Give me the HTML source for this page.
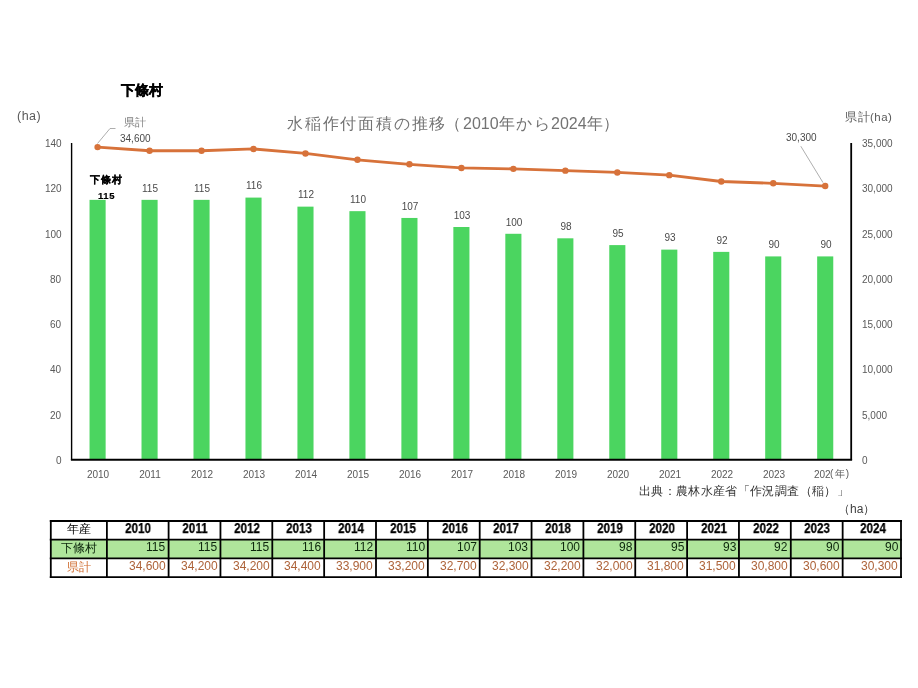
<!DOCTYPE html>
<html lang="ja"><head><meta charset="utf-8">
<style>
html,body{margin:0;padding:0;background:#fff;}
body{width:918px;height:688px;position:relative;overflow:hidden;font-family:"Liberation Sans",sans-serif;}
.t{position:absolute;white-space:nowrap;line-height:12px;will-change:transform;}
.ax{font-size:10px;color:#595959;line-height:12px;}
.dl{font-size:10px;color:#4a4a4a;line-height:12px;}
.c{text-align:center;}
.tb{font-size:12px;line-height:16px;color:#000;}
.yh{font-size:14px;line-height:16px;font-weight:bold;color:#000;width:60px;text-align:center;transform:scaleX(0.83);-webkit-text-stroke:0.25px #000;}
svg{position:absolute;left:0;top:0;}
.ti{top:113.5px;font-size:16px;line-height:20px;color:#737373;}
</style></head><body>
<svg width="918" height="688" viewBox="0 0 918 688">
<rect x="89.54" y="199.85" width="16.1" height="260.15" fill="#4bd560"/><rect x="141.51" y="199.85" width="16.1" height="260.15" fill="#4bd560"/><rect x="193.48" y="199.85" width="16.1" height="260.15" fill="#4bd560"/><rect x="245.46" y="197.59" width="16.1" height="262.41" fill="#4bd560"/><rect x="297.43" y="206.64" width="16.1" height="253.36" fill="#4bd560"/><rect x="349.40" y="211.16" width="16.1" height="248.84" fill="#4bd560"/><rect x="401.38" y="217.95" width="16.1" height="242.05" fill="#4bd560"/><rect x="453.35" y="227.00" width="16.1" height="233.00" fill="#4bd560"/><rect x="505.32" y="233.79" width="16.1" height="226.21" fill="#4bd560"/><rect x="557.30" y="238.31" width="16.1" height="221.69" fill="#4bd560"/><rect x="609.27" y="245.10" width="16.1" height="214.90" fill="#4bd560"/><rect x="661.24" y="249.62" width="16.1" height="210.38" fill="#4bd560"/><rect x="713.22" y="251.88" width="16.1" height="208.12" fill="#4bd560"/><rect x="765.19" y="256.41" width="16.1" height="203.59" fill="#4bd560"/><rect x="817.16" y="256.41" width="16.1" height="203.59" fill="#4bd560"/><polyline points="97.59,147.12 149.56,150.74 201.53,150.74 253.51,148.93 305.48,153.45 357.45,159.79 409.43,164.31 461.40,167.93 513.37,168.84 565.35,170.65 617.32,172.46 669.29,175.17 721.27,181.50 773.24,183.31 825.21,186.03" fill="none" stroke="#d7723a" stroke-width="2.8" stroke-linejoin="round"/><circle cx="97.59" cy="147.12" r="3.2" fill="#d7723a"/><circle cx="149.56" cy="150.74" r="3.2" fill="#d7723a"/><circle cx="201.53" cy="150.74" r="3.2" fill="#d7723a"/><circle cx="253.51" cy="148.93" r="3.2" fill="#d7723a"/><circle cx="305.48" cy="153.45" r="3.2" fill="#d7723a"/><circle cx="357.45" cy="159.79" r="3.2" fill="#d7723a"/><circle cx="409.43" cy="164.31" r="3.2" fill="#d7723a"/><circle cx="461.40" cy="167.93" r="3.2" fill="#d7723a"/><circle cx="513.37" cy="168.84" r="3.2" fill="#d7723a"/><circle cx="565.35" cy="170.65" r="3.2" fill="#d7723a"/><circle cx="617.32" cy="172.46" r="3.2" fill="#d7723a"/><circle cx="669.29" cy="175.17" r="3.2" fill="#d7723a"/><circle cx="721.27" cy="181.50" r="3.2" fill="#d7723a"/><circle cx="773.24" cy="183.31" r="3.2" fill="#d7723a"/><circle cx="825.21" cy="186.03" r="3.2" fill="#d7723a"/><line x1="71.6" y1="143.0" x2="71.6" y2="460.0" stroke="#000" stroke-width="1.4"/><line x1="851.2" y1="143.0" x2="851.2" y2="460.0" stroke="#000" stroke-width="1.8"/><line x1="70.89999999999999" y1="459.7" x2="852.1" y2="459.7" stroke="#000" stroke-width="2"/><polyline points="97.5,143.5 110,128.5 115.5,128.5" fill="none" stroke="#999" stroke-width="0.8"/><line x1="800.8" y1="146.2" x2="823" y2="182.6" stroke="#999" stroke-width="0.8"/><rect x="50.80" y="539.70" width="850.20" height="18.70" fill="#afe59b"/><line x1="49.8" y1="521.0" x2="902.0" y2="521.0" stroke="#000" stroke-width="1.8"/><line x1="49.8" y1="539.7" x2="902.0" y2="539.7" stroke="#000" stroke-width="1.8"/><line x1="49.8" y1="558.4" x2="902.0" y2="558.4" stroke="#000" stroke-width="1.8"/><line x1="49.8" y1="577.1" x2="902.0" y2="577.1" stroke="#000" stroke-width="1.8"/><line x1="50.80" y1="520.1" x2="50.80" y2="578.0" stroke="#000" stroke-width="1.8"/><line x1="106.90" y1="520.1" x2="106.90" y2="578.0" stroke="#000" stroke-width="1.8"/><line x1="168.60" y1="520.1" x2="168.60" y2="578.0" stroke="#000" stroke-width="1.8"/><line x1="220.45" y1="520.1" x2="220.45" y2="578.0" stroke="#000" stroke-width="1.8"/><line x1="272.30" y1="520.1" x2="272.30" y2="578.0" stroke="#000" stroke-width="1.8"/><line x1="324.15" y1="520.1" x2="324.15" y2="578.0" stroke="#000" stroke-width="1.8"/><line x1="376.00" y1="520.1" x2="376.00" y2="578.0" stroke="#000" stroke-width="1.8"/><line x1="427.85" y1="520.1" x2="427.85" y2="578.0" stroke="#000" stroke-width="1.8"/><line x1="479.70" y1="520.1" x2="479.70" y2="578.0" stroke="#000" stroke-width="1.8"/><line x1="531.55" y1="520.1" x2="531.55" y2="578.0" stroke="#000" stroke-width="1.8"/><line x1="583.40" y1="520.1" x2="583.40" y2="578.0" stroke="#000" stroke-width="1.8"/><line x1="635.25" y1="520.1" x2="635.25" y2="578.0" stroke="#000" stroke-width="1.8"/><line x1="687.10" y1="520.1" x2="687.10" y2="578.0" stroke="#000" stroke-width="1.8"/><line x1="738.95" y1="520.1" x2="738.95" y2="578.0" stroke="#000" stroke-width="1.8"/><line x1="790.80" y1="520.1" x2="790.80" y2="578.0" stroke="#000" stroke-width="1.8"/><line x1="842.65" y1="520.1" x2="842.65" y2="578.0" stroke="#000" stroke-width="1.8"/><line x1="901.00" y1="520.1" x2="901.00" y2="578.0" stroke="#000" stroke-width="1.8"/>
</svg>
<div class="t" style="left:121px;top:80.8px;font-size:14px;line-height:18px;font-weight:bold;color:#000;-webkit-text-stroke:0.35px #000;">下條村</div>
<div class="t" style="left:17px;top:107.5px;font-size:12.5px;letter-spacing:0.5px;line-height:16px;color:#595959;">(ha)</div>
<div class="t" style="left:845px;top:109px;font-size:11.5px;letter-spacing:0.5px;line-height:16px;color:#595959;">県計(ha)</div>
<div class="t ti" style="left:287.4px;letter-spacing:1.8px;">水稲作付面積の推移</div>
<div class="t ti" style="left:444.7px;">（</div>
<div class="t ti" style="left:462.5px;">2010</div>
<div class="t ti" style="left:499px;">年</div>
<div class="t ti" style="left:516px;letter-spacing:2px;">から</div>
<div class="t ti" style="left:550.8px;">2024</div>
<div class="t ti" style="left:587px;">年</div>
<div class="t ti" style="left:602.6px;">）</div>
<div class="t" style="left:124px;top:115.2px;font-size:10.5px;line-height:14px;color:#808080;">県計</div>
<div class="t dl" style="left:120px;top:133.2px;">34,600</div>
<div class="t dl" style="left:786px;top:132.3px;">30,300</div>
<div class="t" style="left:89.7px;top:173.2px;font-size:10px;letter-spacing:1px;line-height:14px;font-weight:bold;color:#000;-webkit-text-stroke:0.2px #000;">下條村</div>
<div class="t" style="left:97.8px;top:190.0px;font-size:9.5px;letter-spacing:0.6px;line-height:12px;font-weight:bold;color:#000;-webkit-text-stroke:0.2px #000;">115</div>
<div class="t ax" style="right:856.7px;top:454.8px;">0</div><div class="t ax" style="right:856.7px;top:409.5px;">20</div><div class="t ax" style="right:856.7px;top:364.3px;">40</div><div class="t ax" style="right:856.7px;top:319.0px;">60</div><div class="t ax" style="right:856.7px;top:273.8px;">80</div><div class="t ax" style="right:856.7px;top:228.5px;">100</div><div class="t ax" style="right:856.7px;top:183.3px;">120</div><div class="t ax" style="right:856.7px;top:138.1px;">140</div><div class="t ax" style="left:862px;top:454.8px;">0</div><div class="t ax" style="left:862px;top:409.5px;">5,000</div><div class="t ax" style="left:862px;top:364.3px;">10,000</div><div class="t ax" style="left:862px;top:319.0px;">15,000</div><div class="t ax" style="left:862px;top:273.8px;">20,000</div><div class="t ax" style="left:862px;top:228.5px;">25,000</div><div class="t ax" style="left:862px;top:183.3px;">30,000</div><div class="t ax" style="left:862px;top:138.1px;">35,000</div><div class="t ax c" style="left:77.8px;width:40px;top:469px;">2010</div><div class="t ax c" style="left:129.8px;width:40px;top:469px;">2011</div><div class="t ax c" style="left:181.8px;width:40px;top:469px;">2012</div><div class="t ax c" style="left:233.8px;width:40px;top:469px;">2013</div><div class="t ax c" style="left:285.7px;width:40px;top:469px;">2014</div><div class="t ax c" style="left:337.7px;width:40px;top:469px;">2015</div><div class="t ax c" style="left:389.7px;width:40px;top:469px;">2016</div><div class="t ax c" style="left:441.6px;width:40px;top:469px;">2017</div><div class="t ax c" style="left:493.6px;width:40px;top:469px;">2018</div><div class="t ax c" style="left:545.6px;width:40px;top:469px;">2019</div><div class="t ax c" style="left:597.6px;width:40px;top:469px;">2020</div><div class="t ax c" style="left:649.5px;width:40px;top:469px;">2021</div><div class="t ax c" style="left:701.5px;width:40px;top:469px;">2022</div><div class="t ax c" style="left:753.5px;width:40px;top:469px;">2023</div><div class="t ax" style="left:813.7px;top:469px;">202</div><div class="t dl c" style="left:129.9px;width:40px;top:182.7px;">115</div><div class="t dl c" style="left:181.8px;width:40px;top:182.7px;">115</div><div class="t dl c" style="left:233.8px;width:40px;top:180.4px;">116</div><div class="t dl c" style="left:285.8px;width:40px;top:189.4px;">112</div><div class="t dl c" style="left:337.8px;width:40px;top:194.0px;">110</div><div class="t dl c" style="left:389.7px;width:40px;top:200.8px;">107</div><div class="t dl c" style="left:441.7px;width:40px;top:209.8px;">103</div><div class="t dl c" style="left:493.7px;width:40px;top:216.6px;">100</div><div class="t dl c" style="left:545.6px;width:40px;top:221.1px;">98</div><div class="t dl c" style="left:597.6px;width:40px;top:227.9px;">95</div><div class="t dl c" style="left:649.6px;width:40px;top:232.4px;">93</div><div class="t dl c" style="left:701.6px;width:40px;top:234.7px;">92</div><div class="t dl c" style="left:753.5px;width:40px;top:239.2px;">90</div><div class="t dl c" style="left:805.5px;width:40px;top:239.2px;">90</div>
<div class="t ax" style="left:830px;top:467.5px;font-size:10px;letter-spacing:1.2px;">(年)</div>
<div class="t" style="left:638.5px;top:484.3px;font-size:12px;letter-spacing:0.35px;line-height:14px;color:#333;">出典：農林水産省「作況調査（稲）」</div>
<div class="t" style="left:838px;top:502px;font-size:12px;line-height:14px;color:#404040;">（ha）</div>
<div class="t tb" style="left:67.3px;top:521.2px;">年産</div><div class="t tb" style="left:61.4px;top:540.2px;color:#0c260c;">下條村</div><div class="t tb" style="left:67px;top:559px;color:#cf6c30;">県計</div><div class="t yh" style="left:108.4px;top:519.7px;">2010</div><div class="t tb" style="right:752.4px;top:539.0px;color:#0c260c;">115</div><div class="t tb" style="right:752.4px;top:558.2px;color:#ad6238;">34,600</div><div class="t yh" style="left:165.2px;top:519.7px;">2011</div><div class="t tb" style="right:700.5px;top:539.0px;color:#0c260c;">115</div><div class="t tb" style="right:700.5px;top:558.2px;color:#ad6238;">34,200</div><div class="t yh" style="left:217.1px;top:519.7px;">2012</div><div class="t tb" style="right:648.7px;top:539.0px;color:#0c260c;">115</div><div class="t tb" style="right:648.7px;top:558.2px;color:#ad6238;">34,200</div><div class="t yh" style="left:268.9px;top:519.7px;">2013</div><div class="t tb" style="right:596.9px;top:539.0px;color:#0c260c;">116</div><div class="t tb" style="right:596.9px;top:558.2px;color:#ad6238;">34,400</div><div class="t yh" style="left:320.8px;top:519.7px;">2014</div><div class="t tb" style="right:545.0px;top:539.0px;color:#0c260c;">112</div><div class="t tb" style="right:545.0px;top:558.2px;color:#ad6238;">33,900</div><div class="t yh" style="left:372.6px;top:519.7px;">2015</div><div class="t tb" style="right:493.1px;top:539.0px;color:#0c260c;">110</div><div class="t tb" style="right:493.1px;top:558.2px;color:#ad6238;">33,200</div><div class="t yh" style="left:424.5px;top:519.7px;">2016</div><div class="t tb" style="right:441.3px;top:539.0px;color:#0c260c;">107</div><div class="t tb" style="right:441.3px;top:558.2px;color:#ad6238;">32,700</div><div class="t yh" style="left:476.3px;top:519.7px;">2017</div><div class="t tb" style="right:389.5px;top:539.0px;color:#0c260c;">103</div><div class="t tb" style="right:389.5px;top:558.2px;color:#ad6238;">32,300</div><div class="t yh" style="left:528.2px;top:519.7px;">2018</div><div class="t tb" style="right:337.6px;top:539.0px;color:#0c260c;">100</div><div class="t tb" style="right:337.6px;top:558.2px;color:#ad6238;">32,200</div><div class="t yh" style="left:580.0px;top:519.7px;">2019</div><div class="t tb" style="right:285.8px;top:539.0px;color:#0c260c;">98</div><div class="t tb" style="right:285.8px;top:558.2px;color:#ad6238;">32,000</div><div class="t yh" style="left:631.9px;top:519.7px;">2020</div><div class="t tb" style="right:233.9px;top:539.0px;color:#0c260c;">95</div><div class="t tb" style="right:233.9px;top:558.2px;color:#ad6238;">31,800</div><div class="t yh" style="left:683.7px;top:519.7px;">2021</div><div class="t tb" style="right:182.0px;top:539.0px;color:#0c260c;">93</div><div class="t tb" style="right:182.0px;top:558.2px;color:#ad6238;">31,500</div><div class="t yh" style="left:735.6px;top:519.7px;">2022</div><div class="t tb" style="right:130.2px;top:539.0px;color:#0c260c;">92</div><div class="t tb" style="right:130.2px;top:558.2px;color:#ad6238;">30,800</div><div class="t yh" style="left:787.4px;top:519.7px;">2023</div><div class="t tb" style="right:78.3px;top:539.0px;color:#0c260c;">90</div><div class="t tb" style="right:78.3px;top:558.2px;color:#ad6238;">30,600</div><div class="t yh" style="left:842.5px;top:519.7px;">2024</div><div class="t tb" style="right:20.0px;top:539.0px;color:#0c260c;">90</div><div class="t tb" style="right:20.0px;top:558.2px;color:#ad6238;">30,300</div>
</body></html>
